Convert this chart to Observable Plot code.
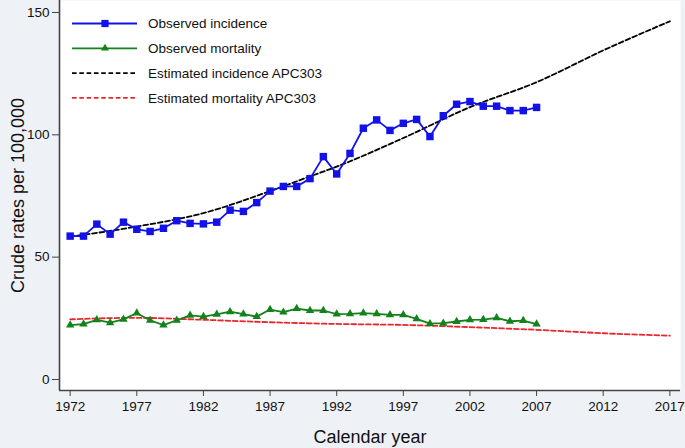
<!DOCTYPE html>
<html><head><meta charset="utf-8">
<script src="https://cdn.jsdelivr.net/npm/d3@7"></script>
<script src="https://cdn.jsdelivr.net/npm/@observablehq/plot@0.6"></script>
<style>
html,body{margin:0;padding:0;background:#eef2f7;}
#wrap{position:relative;width:685px;height:448px;font-family:"Liberation Sans",Arial,sans-serif;}
#legend{position:absolute;left:0;top:0;pointer-events:none;}
</style></head><body><div id="wrap"></div>
<script>
// ---- data ----
const years = [1972,1973,1974,1975,1976,1977,1978,1979,1980,1981,1982,1983,1984,1985,1986,1987,1988,1989,1990,1991,1992,1993,1994,1995,1996,1997,1998,1999,2000,2001,2002,2003,2004,2005,2006,2007];
const incidence = [58.6,58.6,63.5,59.4,64.3,61.4,60.5,61.8,64.9,63.8,63.6,64.3,69.2,68.7,72.3,77.0,78.9,78.9,82.1,91.1,84.0,92.4,102.7,106.1,101.8,104.7,106.3,99.3,107.8,112.5,113.6,111.7,111.7,109.9,109.9,111.2];
const mortality = [22.2,22.6,24.4,23.2,24.6,27.1,24.2,22.2,24.2,26.2,25.7,26.6,27.7,26.7,25.7,28.6,27.5,29.0,28.2,28.2,26.7,26.8,27.1,26.8,26.4,26.4,24.8,22.8,23.0,23.7,24.4,24.5,25.2,23.8,24.1,22.6];
const estIncYears = [1972,1977,1982,1987,1990,1992,1997,2002,2007,2012,2017];
const estIncidence = [58.4,62.5,68.0,77.0,83.0,87.0,98.7,111.3,121.5,134.5,146.4];
const estMortYears = [1972,1977,1982,1987,1992,1997,2002,2007,2012,2017];
const estMortality = [24.6,25.2,24.4,23.4,22.7,22.3,21.4,20.3,18.9,17.9];
const xTicks = [1972,1977,1982,1987,1992,1997,2002,2007,2012,2017];
const yTicks = [0,50,100,150];
const legendLabels = ["Observed incidence","Observed mortality","Estimated incidence APC303","Estimated mortality APC303"];
const xTitle = "Calendar year";
const yTitle = "Crude rates per 100,000";

// ---- tables ----
const obsInc = years.map((y,i)=>({year:y, value:incidence[i]}));
const obsMort = years.map((y,i)=>({year:y, value:mortality[i]}));
const estInc = estIncYears.map((y,i)=>({year:y, value:estIncidence[i]}));
const estMort = estMortYears.map((y,i)=>({year:y, value:estMortality[i]}));

const BLUE = "#1212e8", GREEN = "#13821a", RED = "#e8262b", BLACK = "#000";
const AXIS = "#444";
const xDomain = [1971.2, 2017.8];
const yDomain = [-4.5, 154.9];
const font = "Liberation Sans, Arial, sans-serif";

const chart = Plot.plot({
  width: 685, height: 448,
  marginLeft: 59, marginRight: 5, marginTop: 0, marginBottom: 58,
  style: {background: "#eef2f7", fontFamily: font, color: "#111", overflow: "visible"},
  x: {domain: xDomain},
  y: {domain: yDomain},
  marks: [
    Plot.frame({fill: "white", stroke: "none"}),
    Plot.axisX({ticks: xTicks, tickFormat: d => String(d), tickSize: 6, tickPadding: 5, fontSize: 13.5, label: null, stroke: AXIS, fill: "#111"}),
    Plot.axisY({ticks: yTicks, tickFormat: d => String(d), tickSize: 7, tickPadding: 3, fontSize: 13.5, label: null, stroke: AXIS, fill: "#111"}),
    Plot.ruleX([xDomain[0]], {stroke: AXIS, strokeWidth: 1.6}),
    Plot.ruleY([yDomain[0]], {stroke: AXIS, strokeWidth: 1.6}),
    Plot.line(estInc, {x: "year", y: "value", stroke: BLACK, strokeWidth: 1.8, strokeDasharray: "4.8,2.6", curve: "monotone-x"}),
    Plot.line(estMort, {x: "year", y: "value", stroke: RED, strokeWidth: 1.8, strokeDasharray: "4.8,2.6", curve: "monotone-x"}),
    Plot.line(obsInc, {x: "year", y: "value", stroke: BLUE, strokeWidth: 1.8}),
    Plot.dot(obsInc, {x: "year", y: "value", symbol: "square", r: 4.2, fill: BLUE, stroke: "none"}),
    Plot.line(obsMort, {x: "year", y: "value", stroke: GREEN, strokeWidth: 1.8}),
    Plot.dot(obsMort, {x: "year", y: "value", symbol: "triangle", r: 3.1, fill: GREEN, stroke: "none"}),
    Plot.text([xTitle], {text: d => d, frameAnchor: "bottom", textAnchor: "middle", dy: 52, fontSize: 18, fill: "#111"}),
    Plot.text([yTitle], {text: d => d, frameAnchor: "left", textAnchor: "middle", rotate: -90, dx: -41, fontSize: 18, fill: "#111"})
  ]
});

const wrap = document.getElementById("wrap");
wrap.appendChild(chart);

// ---- legend (inside plot, top-left) ----
const styles = [
  {color: BLUE, dash: null, symbol: d3.symbolSquare, size: 52},
  {color: GREEN, dash: null, symbol: d3.symbolTriangle, size: 28},
  {color: BLACK, dash: "4.6,2.7", symbol: null},
  {color: RED, dash: "4.6,2.7", symbol: null}
];
const leg = d3.select(wrap).append("svg").attr("id", "legend")
  .attr("width", 420).attr("height", 120);
const rows = leg.selectAll("g").data(legendLabels).join("g")
  .attr("transform", (d, i) => `translate(0,${23.5 + i * 24.8})`);
rows.append("line").attr("x1", 72).attr("x2", 137).attr("y1", 0).attr("y2", 0)
  .attr("stroke", (d, i) => styles[i].color).attr("stroke-width", 1.8)
  .attr("stroke-dasharray", (d, i) => styles[i].dash);
rows.filter((d, i) => styles[i].symbol).append("path")
  .attr("transform", "translate(105,0)")
  .attr("d", (d) => { const s = styles[legendLabels.indexOf(d)]; return d3.symbol(s.symbol, s.size)(); })
  .attr("fill", (d) => styles[legendLabels.indexOf(d)].color);
rows.append("text").attr("x", 148).attr("y", 0).attr("dy", "0.35em")
  .attr("font-family", font).attr("font-size", 13.5).attr("fill", "#111")
  .text(d => d);
</script></body></html>
